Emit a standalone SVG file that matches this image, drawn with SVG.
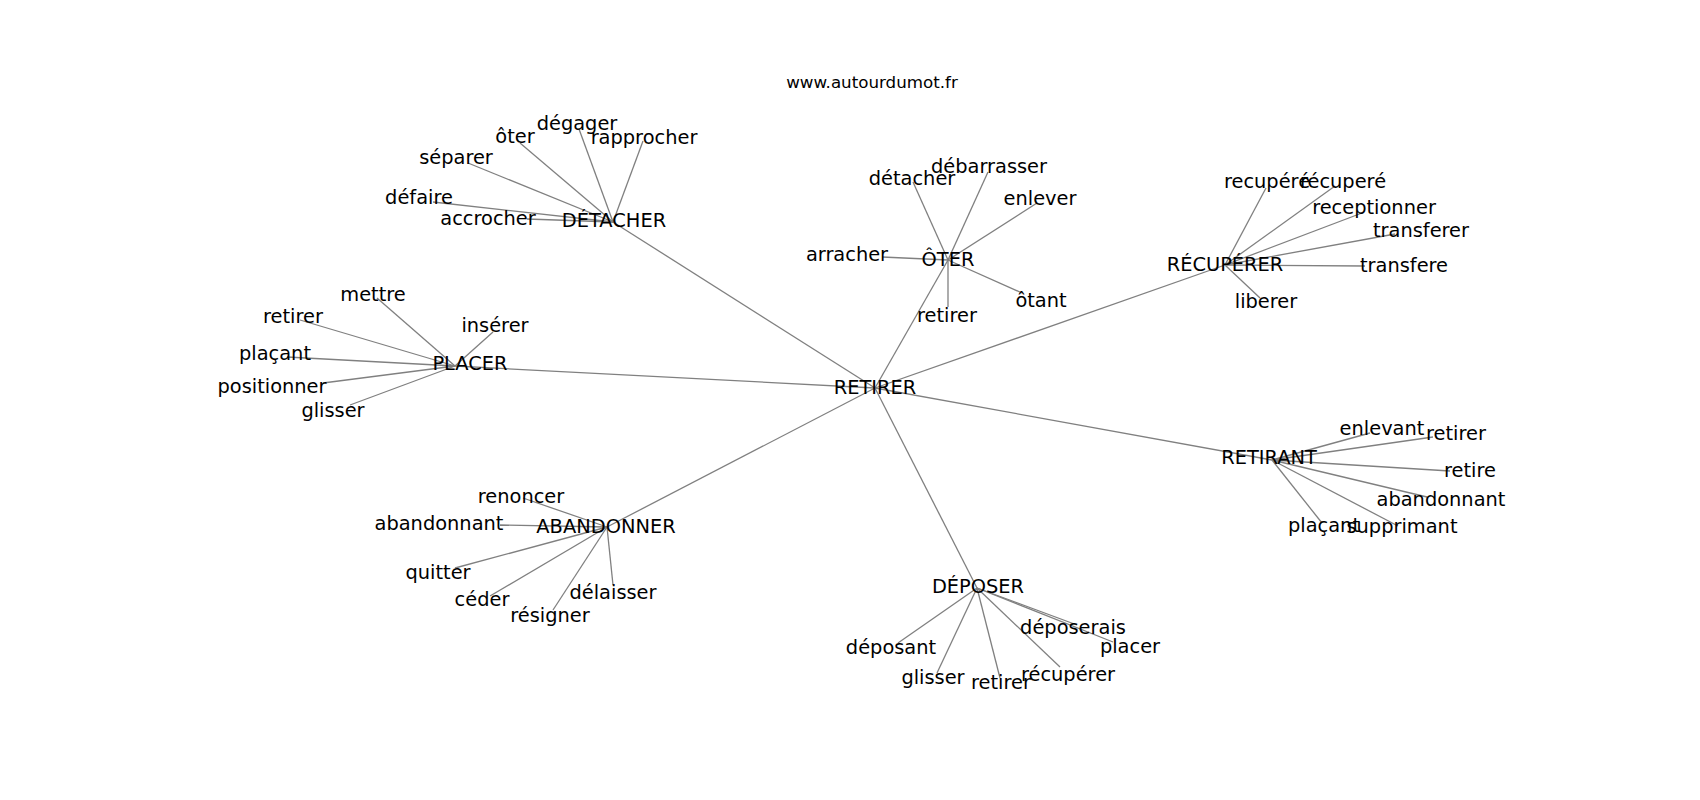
<svg xmlns="http://www.w3.org/2000/svg" width="1700" height="800" viewBox="0 0 1700 800">
<style>
.e{stroke:#808080;stroke-width:1.3;fill:none}
.t{font-family:"DejaVu Sans","Liberation Sans",sans-serif;font-size:19.4px;fill:#000;text-anchor:middle}
.title{font-family:"DejaVu Sans","Liberation Sans",sans-serif;font-size:16.7px;fill:#000;text-anchor:middle}
</style>
<rect width="1700" height="800" fill="#fff"/>
<text class="title" x="872" y="88">www.autourdumot.fr</text>
<g id="edges">
<line class="e" x1="875" y1="388" x2="613" y2="222"/>
<line class="e" x1="875" y1="388" x2="948" y2="260"/>
<line class="e" x1="875" y1="388" x2="1225" y2="265"/>
<line class="e" x1="875" y1="388" x2="455" y2="366"/>
<line class="e" x1="875" y1="388" x2="1272" y2="460"/>
<line class="e" x1="875" y1="388" x2="607" y2="527"/>
<line class="e" x1="875" y1="388" x2="977" y2="588"/>
<line class="e" x1="613" y1="222" x2="579" y2="129"/>
<line class="e" x1="613" y1="222" x2="643" y2="141"/>
<line class="e" x1="613" y1="222" x2="520" y2="143"/>
<line class="e" x1="613" y1="222" x2="468" y2="163"/>
<line class="e" x1="613" y1="222" x2="433" y2="202"/>
<line class="e" x1="613" y1="222" x2="527" y2="219"/>
<line class="e" x1="948" y1="260" x2="913" y2="182"/>
<line class="e" x1="948" y1="260" x2="988" y2="172"/>
<line class="e" x1="948" y1="260" x2="1037" y2="203"/>
<line class="e" x1="948" y1="260" x2="882" y2="257"/>
<line class="e" x1="948" y1="260" x2="1022" y2="293"/>
<line class="e" x1="948" y1="260" x2="948" y2="307"/>
<line class="e" x1="1225" y1="265" x2="1266" y2="188"/>
<line class="e" x1="1225" y1="265" x2="1335" y2="186"/>
<line class="e" x1="1225" y1="265" x2="1362" y2="213"/>
<line class="e" x1="1225" y1="265" x2="1395" y2="234"/>
<line class="e" x1="1225" y1="265" x2="1365" y2="266"/>
<line class="e" x1="1225" y1="265" x2="1260" y2="298"/>
<line class="e" x1="1272" y1="460" x2="1370" y2="433"/>
<line class="e" x1="1272" y1="460" x2="1433" y2="437"/>
<line class="e" x1="1272" y1="460" x2="1450" y2="471"/>
<line class="e" x1="1272" y1="460" x2="1427" y2="497"/>
<line class="e" x1="1272" y1="460" x2="1322" y2="523"/>
<line class="e" x1="1272" y1="460" x2="1398" y2="526"/>
<line class="e" x1="977" y1="588" x2="898" y2="643"/>
<line class="e" x1="977" y1="588" x2="937" y2="673"/>
<line class="e" x1="977" y1="588" x2="1000" y2="678"/>
<line class="e" x1="977" y1="588" x2="1060" y2="667"/>
<line class="e" x1="977" y1="588" x2="1077" y2="625"/>
<line class="e" x1="977" y1="588" x2="1113" y2="642"/>
<line class="e" x1="607" y1="527" x2="523" y2="498"/>
<line class="e" x1="607" y1="527" x2="500" y2="525"/>
<line class="e" x1="607" y1="527" x2="455" y2="568"/>
<line class="e" x1="607" y1="527" x2="490" y2="596"/>
<line class="e" x1="607" y1="527" x2="553" y2="610"/>
<line class="e" x1="607" y1="527" x2="613" y2="585"/>
<line class="e" x1="455" y1="366" x2="377" y2="298"/>
<line class="e" x1="455" y1="366" x2="300" y2="320"/>
<line class="e" x1="455" y1="366" x2="493" y2="332"/>
<line class="e" x1="455" y1="366" x2="287" y2="357"/>
<line class="e" x1="455" y1="366" x2="323" y2="383"/>
<line class="e" x1="455" y1="366" x2="350" y2="405"/>
</g>
<g id="n-retirer"><text class="t" x="875" y="394">RETIRER</text></g>
<g id="n-detacher"><text class="t" x="614" y="227">DÉTACHER</text></g>
<g id="n-oter"><text class="t" x="948" y="266">ÔTER</text></g>
<g id="n-recuperer"><text class="t" x="1225" y="271">RÉCUPÉRER</text></g>
<g id="n-placer"><text class="t" x="470" y="370">PLACER</text></g>
<g id="n-retirant"><text class="t" x="1269" y="464">RETIRANT</text></g>
<g id="n-abandonner"><text class="t" x="606" y="533">ABANDONNER</text></g>
<g id="n-deposer"><text class="t" x="978" y="593">DÉPOSER</text></g>
<g id="n-d-degager"><text class="t" x="577" y="130">dégager</text></g>
<g id="n-d-rapprocher"><text class="t" x="644" y="144">rapprocher</text></g>
<g id="n-d-oter"><text class="t" x="515" y="143">ôter</text></g>
<g id="n-d-separer"><text class="t" x="456" y="164">séparer</text></g>
<g id="n-d-defaire"><text class="t" x="419" y="204">défaire</text></g>
<g id="n-d-accrocher"><text class="t" x="488" y="225">accrocher</text></g>
<g id="n-o-detacher"><text class="t" x="912" y="185">détacher</text></g>
<g id="n-o-debarrasser"><text class="t" x="989" y="173">débarrasser</text></g>
<g id="n-o-enlever"><text class="t" x="1040" y="205">enlever</text></g>
<g id="n-o-arracher"><text class="t" x="847" y="261">arracher</text></g>
<g id="n-o-otant"><text class="t" x="1041" y="307">ôtant</text></g>
<g id="n-o-retirer"><text class="t" x="947" y="322">retirer</text></g>
<g id="n-r-recupere1"><text class="t" x="1267" y="188">recupéré</text></g>
<g id="n-r-recupere2"><text class="t" x="1343" y="188">récuperé</text></g>
<g id="n-r-receptionner"><text class="t" x="1374" y="214">receptionner</text></g>
<g id="n-r-transferer"><text class="t" x="1421" y="237">transferer</text></g>
<g id="n-r-transfere"><text class="t" x="1404" y="272">transfere</text></g>
<g id="n-r-liberer"><text class="t" x="1266" y="308">liberer</text></g>
<g id="n-t-enlevant"><text class="t" x="1382" y="435">enlevant</text></g>
<g id="n-t-retirer"><text class="t" x="1456" y="440">retirer</text></g>
<g id="n-t-retire"><text class="t" x="1470" y="477">retire</text></g>
<g id="n-t-abandonnant"><text class="t" x="1441" y="506">abandonnant</text></g>
<g id="n-t-placant"><text class="t" x="1324" y="532">plaçant</text></g>
<g id="n-t-supprimant"><text class="t" x="1402" y="533">supprimant</text></g>
<g id="n-p-deposant"><text class="t" x="891" y="654">déposant</text></g>
<g id="n-p-glisser"><text class="t" x="933" y="684">glisser</text></g>
<g id="n-p-retirer"><text class="t" x="1001" y="689">retirer</text></g>
<g id="n-p-recuperer"><text class="t" x="1068" y="681">récupérer</text></g>
<g id="n-p-deposerais"><text class="t" x="1073" y="634">déposerais</text></g>
<g id="n-p-placer"><text class="t" x="1130" y="653">placer</text></g>
<g id="n-a-renoncer"><text class="t" x="521" y="503">renoncer</text></g>
<g id="n-a-abandonnant"><text class="t" x="439" y="530">abandonnant</text></g>
<g id="n-a-quitter"><text class="t" x="438" y="579">quitter</text></g>
<g id="n-a-ceder"><text class="t" x="482" y="606">céder</text></g>
<g id="n-a-resigner"><text class="t" x="550" y="622">résigner</text></g>
<g id="n-a-delaisser"><text class="t" x="613" y="599">délaisser</text></g>
<g id="n-l-mettre"><text class="t" x="373" y="301">mettre</text></g>
<g id="n-l-retirer"><text class="t" x="293" y="323">retirer</text></g>
<g id="n-l-inserer"><text class="t" x="495" y="332">insérer</text></g>
<g id="n-l-placant"><text class="t" x="275" y="360">plaçant</text></g>
<g id="n-l-positionner"><text class="t" x="272" y="393">positionner</text></g>
<g id="n-l-glisser"><text class="t" x="333" y="417">glisser</text></g>
</svg>
